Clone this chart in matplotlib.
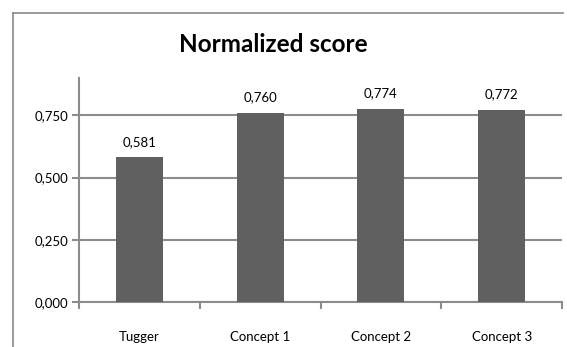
import matplotlib
matplotlib.use("Agg")
import matplotlib.pyplot as plt
from matplotlib.lines import Line2D
from matplotlib.ticker import FuncFormatter

categories = ["Tugger", "Concept 1", "Concept 2", "Concept 3"]
values = [0.581, 0.760, 0.774, 0.772]
yticks = [0.0, 0.25, 0.5, 0.75]
title = "Normalized score"

plt.rcParams['font.family'] = ['Lato', 'DejaVu Sans']

W, H = 567, 347
fig = plt.figure(figsize=(W / 100, H / 100), dpi=100)
fig.patch.set_facecolor("white")

# outer chart border (top and left edges only visible)
bx, by = 12.5 / W, 1 - 12.5 / H
fig.lines.append(Line2D([bx, 563 / W], [by, by], transform=fig.transFigure,
                        color="#8a8a8a", linewidth=1.2))
fig.lines.append(Line2D([bx, bx], [0.0, by], transform=fig.transFigure,
                        color="#8a8a8a", linewidth=1.2))

ax = fig.add_axes([79 / W, 1 - 302 / H, (562 - 79) / W, (302 - 78) / H])
grid_c = "#8c8c8c"
x = range(len(categories))
bars = ax.bar(x, values, width=0.39, color="#606060", zorder=3)
ax.set_xlim(-0.5, len(categories) - 0.5)
ax.set_ylim(0, 0.9)
ax.set_yticks(yticks)
ax.yaxis.set_major_formatter(FuncFormatter(lambda v, p: f"{v:.3f}".replace(".", ",")))
ax.grid(axis="y", color=grid_c, linewidth=1.5, zorder=0)
ax.set_axisbelow(True)

ax.set_xticks([i - 0.5 for i in range(len(categories) + 1)])
ax.set_xticklabels([])
ax.set_xticks(list(x), minor=True)
ax.set_xticklabels(categories, minor=True)
ax.tick_params(axis="x", which="major", length=5, width=1.5, color=grid_c)
ax.tick_params(axis="x", which="minor", length=0, pad=21, labelsize=9.5)
ax.tick_params(axis="y", length=5, width=1.5, color=grid_c, labelsize=9.5, pad=3)

for s in ("top", "right"):
    ax.spines[s].set_visible(False)
for s in ("left", "bottom"):
    ax.spines[s].set_color(grid_c)
    ax.spines[s].set_linewidth(1.5)

for b, v in zip(bars, values):
    ax.annotate(f"{v:.3f}".replace(".", ","), (b.get_x() + b.get_width() / 2, v),
                xytext=(0, 7), textcoords="offset points", ha="center", va="bottom",
                fontsize=9.5)

fig.text(273 / W, 1 - 44 / H, title, ha="center", va="center",
         fontsize=17.5, fontweight="bold")

fig.savefig("out.png", dpi=100, facecolor="white")
